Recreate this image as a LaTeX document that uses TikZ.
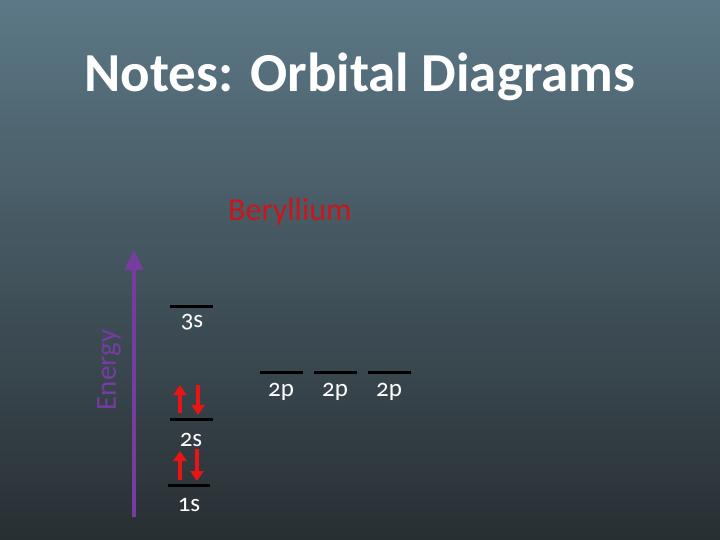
\documentclass[tikz,border=0pt]{standalone}
\usepackage{fontspec}
\setmainfont[Numbers=OldStyle]{Carlito}
\usetikzlibrary{arrows.meta}
\definecolor{bgtop}{RGB}{92,120,134}
\definecolor{bgbot}{RGB}{40,47,51}
\definecolor{energy}{RGB}{118,60,160}
\definecolor{elec}{RGB}{235,20,20}
\definecolor{beryl}{RGB}{200,22,28}

\tikzset{
  orb/.style={line width=3pt,black},
  lbl/.style={text=white,font=\fontsize{25}{27}\selectfont,inner sep=0pt},
  spin/.style={line width=4pt,elec,-{Triangle[width=13pt,length=10pt]}}
}

\begin{document}
\begin{tikzpicture}[x=1pt,y=-1pt]
    \shade[top color=bgtop,bottom color=bgbot] (0,0) rectangle (720,540);
    \useasboundingbox (0,0) rectangle (720,540);

    \node[text=white,font=\fontsize{55}{60}\selectfont\bfseries] (title) at (360,77) {Notes: Orbital Diagrams};
    \node[text=beryl,font=\fontsize{32}{36}\selectfont] (elem) at (290,212) {Beryllium};

    % energy axis
    \coordinate (E0) at (134,517);
    \coordinate (E1) at (134,250);
    \draw[energy,line width=4pt,-{Triangle[width=18pt,length=20pt]}] (E0) -- (E1);
    \node[text=energy,rotate=90,font=\fontsize{29}{31}\selectfont] (elab) at (109,370) {Energy};

    % orbitals
    \draw[orb] (170,306) coordinate(s3a) -- (213,306) coordinate(s3b);
    \draw[orb] (170,419) coordinate(s2a) -- (213,419) coordinate(s2b);
    \draw[orb] (168,485) coordinate(s1a) -- (210,485) coordinate(s1b);
    \draw[orb] (260,372) coordinate(pxa) -- (303,372) coordinate(pxb);
    \draw[orb] (314,372) coordinate(pya) -- (357,372) coordinate(pyb);
    \draw[orb] (368,372) coordinate(pza) -- (411,372) coordinate(pzb);

    \node[lbl] (l3s) at (192,322) {3s};
    \node[lbl] (l2s) at (191,440) {2s};
    \node[lbl] (l1s) at (189,505) {1s};
    \node[lbl] (l2px) at (281,392) {2p};
    \node[lbl] (l2py) at (335,392) {2p};
    \node[lbl] (l2pz) at (389,392) {2p};

    % electrons
    \draw[spin] (180,413) coordinate(u2a) -- (180,385) coordinate(u2b);
    \draw[spin] (198,385) coordinate(d2a) -- (198,415) coordinate(d2b);
    \draw[spin] (180,480) coordinate(u1a) -- (180,451) coordinate(u1b);
    \draw[spin] (197,449) coordinate(d1a) -- (197,481) coordinate(d1b);
\end{tikzpicture}
\end{document}
